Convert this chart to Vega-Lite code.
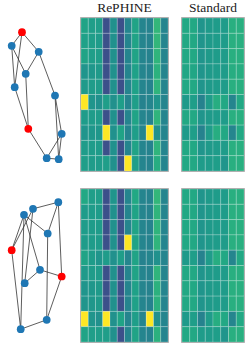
{
"$schema": "https://vega.github.io/schema/vega-lite/v6.json",
"padding": 0,
"config": {"view": {"stroke": null}, "title": {"font": "Liberation Serif", "fontSize": 13.5, "fontWeight": "normal", "color": "#222", "offset": 3}},
"datasets": {
"n1": [
{"id":"A","x":22,"y":14.2,"k":"r"},{"id":"B","x":11.7,"y":27.8,"k":"n"},{"id":"C","x":38.7,"y":33.8,"k":"n"},{"id":"D","x":25.7,"y":55.8,"k":"n"},{"id":"E","x":14.7,"y":69.2,"k":"n"},{"id":"F","x":55,"y":77.5,"k":"n"},{"id":"G","x":28.3,"y":110.8,"k":"r"},{"id":"H","x":61.7,"y":115.8,"k":"n"},{"id":"I","x":46.7,"y":140.2,"k":"n"},{"id":"J","x":58.7,"y":141.2,"k":"n"}],
"e1": [
{"s":"A","t":"B"},{"s":"A","t":"C"},{"s":"A","t":"E"},{"s":"B","t":"D"},{"s":"B","t":"E"},{"s":"C","t":"D"},{"s":"C","t":"F"},{"s":"D","t":"G"},{"s":"E","t":"G"},{"s":"G","t":"I"},{"s":"F","t":"H"},{"s":"F","t":"J"},{"s":"H","t":"I"},{"s":"H","t":"J"},{"s":"I","t":"J"}],
"n2": [
{"id":"a","x":58.3,"y":13.2,"k":"n"},{"id":"b","x":33,"y":19.8,"k":"n"},{"id":"c","x":24,"y":25.8,"k":"n"},{"id":"d","x":47.7,"y":44.5,"k":"n"},{"id":"e","x":11.7,"y":61.2,"k":"r"},{"id":"f","x":40,"y":80.8,"k":"n"},{"id":"g","x":61.7,"y":87.5,"k":"r"},{"id":"h","x":24.7,"y":94.2,"k":"n"},{"id":"i","x":46.7,"y":130.8,"k":"n"},{"id":"j","x":20.7,"y":140.2,"k":"n"}],
"e2": [
{"s":"a","t":"b"},{"s":"a","t":"d"},{"s":"a","t":"g"},{"s":"b","t":"e"},{"s":"b","t":"h"},{"s":"c","t":"e"},{"s":"c","t":"d"},{"s":"c","t":"f"},{"s":"c","t":"j"},{"s":"d","t":"i"},{"s":"f","t":"h"},{"s":"f","t":"g"},{"s":"g","t":"i"},{"s":"i","t":"j"},{"s":"e","t":"j"}],
"heat": [
{"p":"t","m":"R","r":0,"c":0,"v":0.58},{"p":"t","m":"R","r":0,"c":1,"v":0.56},{"p":"t","m":"R","r":0,"c":2,"v":0.56},{"p":"t","m":"R","r":0,"c":3,"v":0.24},{"p":"t","m":"R","r":0,"c":4,"v":0.5},{"p":"t","m":"R","r":0,"c":5,"v":0.24},{"p":"t","m":"R","r":0,"c":6,"v":0.45},{"p":"t","m":"R","r":0,"c":7,"v":0.58},{"p":"t","m":"R","r":0,"c":8,"v":0.45},{"p":"t","m":"R","r":0,"c":9,"v":0.44},{"p":"t","m":"R","r":0,"c":10,"v":0.66},{"p":"t","m":"R","r":0,"c":11,"v":0.45},
{"p":"t","m":"R","r":1,"c":0,"v":0.57},{"p":"t","m":"R","r":1,"c":1,"v":0.56},{"p":"t","m":"R","r":1,"c":2,"v":0.55},{"p":"t","m":"R","r":1,"c":3,"v":0.24},{"p":"t","m":"R","r":1,"c":4,"v":0.5},{"p":"t","m":"R","r":1,"c":5,"v":0.24},{"p":"t","m":"R","r":1,"c":6,"v":0.45},{"p":"t","m":"R","r":1,"c":7,"v":0.58},{"p":"t","m":"R","r":1,"c":8,"v":0.45},{"p":"t","m":"R","r":1,"c":9,"v":0.44},{"p":"t","m":"R","r":1,"c":10,"v":0.66},{"p":"t","m":"R","r":1,"c":11,"v":0.45},
{"p":"t","m":"R","r":2,"c":0,"v":0.58},{"p":"t","m":"R","r":2,"c":1,"v":0.56},{"p":"t","m":"R","r":2,"c":2,"v":0.56},{"p":"t","m":"R","r":2,"c":3,"v":0.24},{"p":"t","m":"R","r":2,"c":4,"v":0.5},{"p":"t","m":"R","r":2,"c":5,"v":0.24},{"p":"t","m":"R","r":2,"c":6,"v":0.45},{"p":"t","m":"R","r":2,"c":7,"v":0.58},{"p":"t","m":"R","r":2,"c":8,"v":0.45},{"p":"t","m":"R","r":2,"c":9,"v":0.44},{"p":"t","m":"R","r":2,"c":10,"v":0.65},{"p":"t","m":"R","r":2,"c":11,"v":0.45},
{"p":"t","m":"R","r":3,"c":0,"v":0.52},{"p":"t","m":"R","r":3,"c":1,"v":0.53},{"p":"t","m":"R","r":3,"c":2,"v":0.54},{"p":"t","m":"R","r":3,"c":3,"v":0.24},{"p":"t","m":"R","r":3,"c":4,"v":0.5},{"p":"t","m":"R","r":3,"c":5,"v":0.24},{"p":"t","m":"R","r":3,"c":6,"v":0.45},{"p":"t","m":"R","r":3,"c":7,"v":0.57},{"p":"t","m":"R","r":3,"c":8,"v":0.45},{"p":"t","m":"R","r":3,"c":9,"v":0.44},{"p":"t","m":"R","r":3,"c":10,"v":0.64},{"p":"t","m":"R","r":3,"c":11,"v":0.45},
{"p":"t","m":"R","r":4,"c":0,"v":0.54},{"p":"t","m":"R","r":4,"c":1,"v":0.55},{"p":"t","m":"R","r":4,"c":2,"v":0.55},{"p":"t","m":"R","r":4,"c":3,"v":0.24},{"p":"t","m":"R","r":4,"c":4,"v":0.5},{"p":"t","m":"R","r":4,"c":5,"v":0.24},{"p":"t","m":"R","r":4,"c":6,"v":0.45},{"p":"t","m":"R","r":4,"c":7,"v":0.57},{"p":"t","m":"R","r":4,"c":8,"v":0.45},{"p":"t","m":"R","r":4,"c":9,"v":0.44},{"p":"t","m":"R","r":4,"c":10,"v":0.65},{"p":"t","m":"R","r":4,"c":11,"v":0.45},
{"p":"t","m":"R","r":5,"c":0,"v":1.0},{"p":"t","m":"R","r":5,"c":1,"v":0.52},{"p":"t","m":"R","r":5,"c":2,"v":0.5},{"p":"t","m":"R","r":5,"c":3,"v":0.56},{"p":"t","m":"R","r":5,"c":4,"v":0.5},{"p":"t","m":"R","r":5,"c":5,"v":0.56},{"p":"t","m":"R","r":5,"c":6,"v":0.45},{"p":"t","m":"R","r":5,"c":7,"v":0.56},{"p":"t","m":"R","r":5,"c":8,"v":0.44},{"p":"t","m":"R","r":5,"c":9,"v":0.45},{"p":"t","m":"R","r":5,"c":10,"v":0.52},{"p":"t","m":"R","r":5,"c":11,"v":0.45},
{"p":"t","m":"R","r":6,"c":0,"v":0.55},{"p":"t","m":"R","r":6,"c":1,"v":0.55},{"p":"t","m":"R","r":6,"c":2,"v":0.55},{"p":"t","m":"R","r":6,"c":3,"v":0.24},{"p":"t","m":"R","r":6,"c":4,"v":0.5},{"p":"t","m":"R","r":6,"c":5,"v":0.24},{"p":"t","m":"R","r":6,"c":6,"v":0.45},{"p":"t","m":"R","r":6,"c":7,"v":0.58},{"p":"t","m":"R","r":6,"c":8,"v":0.45},{"p":"t","m":"R","r":6,"c":9,"v":0.44},{"p":"t","m":"R","r":6,"c":10,"v":0.65},{"p":"t","m":"R","r":6,"c":11,"v":0.45},
{"p":"t","m":"R","r":7,"c":0,"v":0.52},{"p":"t","m":"R","r":7,"c":1,"v":0.53},{"p":"t","m":"R","r":7,"c":2,"v":0.53},{"p":"t","m":"R","r":7,"c":3,"v":1.0},{"p":"t","m":"R","r":7,"c":4,"v":0.5},{"p":"t","m":"R","r":7,"c":5,"v":0.58},{"p":"t","m":"R","r":7,"c":6,"v":0.45},{"p":"t","m":"R","r":7,"c":7,"v":0.56},{"p":"t","m":"R","r":7,"c":8,"v":0.45},{"p":"t","m":"R","r":7,"c":9,"v":1.0},{"p":"t","m":"R","r":7,"c":10,"v":0.5},{"p":"t","m":"R","r":7,"c":11,"v":0.45},
{"p":"t","m":"R","r":8,"c":0,"v":0.55},{"p":"t","m":"R","r":8,"c":1,"v":0.55},{"p":"t","m":"R","r":8,"c":2,"v":0.55},{"p":"t","m":"R","r":8,"c":3,"v":0.24},{"p":"t","m":"R","r":8,"c":4,"v":0.5},{"p":"t","m":"R","r":8,"c":5,"v":0.24},{"p":"t","m":"R","r":8,"c":6,"v":0.45},{"p":"t","m":"R","r":8,"c":7,"v":0.58},{"p":"t","m":"R","r":8,"c":8,"v":0.45},{"p":"t","m":"R","r":8,"c":9,"v":0.44},{"p":"t","m":"R","r":8,"c":10,"v":0.65},{"p":"t","m":"R","r":8,"c":11,"v":0.45},
{"p":"t","m":"R","r":9,"c":0,"v":0.56},{"p":"t","m":"R","r":9,"c":1,"v":0.55},{"p":"t","m":"R","r":9,"c":2,"v":0.55},{"p":"t","m":"R","r":9,"c":3,"v":0.56},{"p":"t","m":"R","r":9,"c":4,"v":0.5},{"p":"t","m":"R","r":9,"c":5,"v":0.24},{"p":"t","m":"R","r":9,"c":6,"v":1.0},{"p":"t","m":"R","r":9,"c":7,"v":0.56},{"p":"t","m":"R","r":9,"c":8,"v":0.45},{"p":"t","m":"R","r":9,"c":9,"v":0.44},{"p":"t","m":"R","r":9,"c":10,"v":0.62},{"p":"t","m":"R","r":9,"c":11,"v":0.45},
{"p":"b","m":"R","r":0,"c":0,"v":0.6},{"p":"b","m":"R","r":0,"c":1,"v":0.56},{"p":"b","m":"R","r":0,"c":2,"v":0.56},{"p":"b","m":"R","r":0,"c":3,"v":0.24},{"p":"b","m":"R","r":0,"c":4,"v":0.52},{"p":"b","m":"R","r":0,"c":5,"v":0.24},{"p":"b","m":"R","r":0,"c":6,"v":0.45},{"p":"b","m":"R","r":0,"c":7,"v":0.6},{"p":"b","m":"R","r":0,"c":8,"v":0.45},{"p":"b","m":"R","r":0,"c":9,"v":0.44},{"p":"b","m":"R","r":0,"c":10,"v":0.66},{"p":"b","m":"R","r":0,"c":11,"v":0.45},
{"p":"b","m":"R","r":1,"c":0,"v":0.55},{"p":"b","m":"R","r":1,"c":1,"v":0.55},{"p":"b","m":"R","r":1,"c":2,"v":0.55},{"p":"b","m":"R","r":1,"c":3,"v":0.24},{"p":"b","m":"R","r":1,"c":4,"v":0.5},{"p":"b","m":"R","r":1,"c":5,"v":0.24},{"p":"b","m":"R","r":1,"c":6,"v":0.45},{"p":"b","m":"R","r":1,"c":7,"v":0.58},{"p":"b","m":"R","r":1,"c":8,"v":0.45},{"p":"b","m":"R","r":1,"c":9,"v":0.44},{"p":"b","m":"R","r":1,"c":10,"v":0.65},{"p":"b","m":"R","r":1,"c":11,"v":0.45},
{"p":"b","m":"R","r":2,"c":0,"v":0.55},{"p":"b","m":"R","r":2,"c":1,"v":0.55},{"p":"b","m":"R","r":2,"c":2,"v":0.55},{"p":"b","m":"R","r":2,"c":3,"v":0.24},{"p":"b","m":"R","r":2,"c":4,"v":0.5},{"p":"b","m":"R","r":2,"c":5,"v":0.24},{"p":"b","m":"R","r":2,"c":6,"v":0.45},{"p":"b","m":"R","r":2,"c":7,"v":0.58},{"p":"b","m":"R","r":2,"c":8,"v":0.45},{"p":"b","m":"R","r":2,"c":9,"v":0.44},{"p":"b","m":"R","r":2,"c":10,"v":0.65},{"p":"b","m":"R","r":2,"c":11,"v":0.45},
{"p":"b","m":"R","r":3,"c":0,"v":0.55},{"p":"b","m":"R","r":3,"c":1,"v":0.55},{"p":"b","m":"R","r":3,"c":2,"v":0.55},{"p":"b","m":"R","r":3,"c":3,"v":0.24},{"p":"b","m":"R","r":3,"c":4,"v":0.5},{"p":"b","m":"R","r":3,"c":5,"v":0.24},{"p":"b","m":"R","r":3,"c":6,"v":1.0},{"p":"b","m":"R","r":3,"c":7,"v":0.58},{"p":"b","m":"R","r":3,"c":8,"v":0.45},{"p":"b","m":"R","r":3,"c":9,"v":0.44},{"p":"b","m":"R","r":3,"c":10,"v":0.65},{"p":"b","m":"R","r":3,"c":11,"v":0.45},
{"p":"b","m":"R","r":4,"c":0,"v":0.58},{"p":"b","m":"R","r":4,"c":1,"v":0.55},{"p":"b","m":"R","r":4,"c":2,"v":0.52},{"p":"b","m":"R","r":4,"c":3,"v":0.55},{"p":"b","m":"R","r":4,"c":4,"v":0.5},{"p":"b","m":"R","r":4,"c":5,"v":0.56},{"p":"b","m":"R","r":4,"c":6,"v":0.45},{"p":"b","m":"R","r":4,"c":7,"v":0.58},{"p":"b","m":"R","r":4,"c":8,"v":0.44},{"p":"b","m":"R","r":4,"c":9,"v":0.45},{"p":"b","m":"R","r":4,"c":10,"v":0.5},{"p":"b","m":"R","r":4,"c":11,"v":0.45},
{"p":"b","m":"R","r":5,"c":0,"v":0.54},{"p":"b","m":"R","r":5,"c":1,"v":0.55},{"p":"b","m":"R","r":5,"c":2,"v":0.55},{"p":"b","m":"R","r":5,"c":3,"v":0.24},{"p":"b","m":"R","r":5,"c":4,"v":0.5},{"p":"b","m":"R","r":5,"c":5,"v":0.24},{"p":"b","m":"R","r":5,"c":6,"v":0.45},{"p":"b","m":"R","r":5,"c":7,"v":0.58},{"p":"b","m":"R","r":5,"c":8,"v":0.45},{"p":"b","m":"R","r":5,"c":9,"v":0.44},{"p":"b","m":"R","r":5,"c":10,"v":0.65},{"p":"b","m":"R","r":5,"c":11,"v":0.45},
{"p":"b","m":"R","r":6,"c":0,"v":0.52},{"p":"b","m":"R","r":6,"c":1,"v":0.53},{"p":"b","m":"R","r":6,"c":2,"v":0.54},{"p":"b","m":"R","r":6,"c":3,"v":0.24},{"p":"b","m":"R","r":6,"c":4,"v":0.5},{"p":"b","m":"R","r":6,"c":5,"v":0.24},{"p":"b","m":"R","r":6,"c":6,"v":0.45},{"p":"b","m":"R","r":6,"c":7,"v":0.57},{"p":"b","m":"R","r":6,"c":8,"v":0.45},{"p":"b","m":"R","r":6,"c":9,"v":0.44},{"p":"b","m":"R","r":6,"c":10,"v":0.64},{"p":"b","m":"R","r":6,"c":11,"v":0.45},
{"p":"b","m":"R","r":7,"c":0,"v":0.52},{"p":"b","m":"R","r":7,"c":1,"v":0.53},{"p":"b","m":"R","r":7,"c":2,"v":0.54},{"p":"b","m":"R","r":7,"c":3,"v":0.24},{"p":"b","m":"R","r":7,"c":4,"v":0.5},{"p":"b","m":"R","r":7,"c":5,"v":0.24},{"p":"b","m":"R","r":7,"c":6,"v":0.45},{"p":"b","m":"R","r":7,"c":7,"v":0.57},{"p":"b","m":"R","r":7,"c":8,"v":0.45},{"p":"b","m":"R","r":7,"c":9,"v":0.44},{"p":"b","m":"R","r":7,"c":10,"v":0.64},{"p":"b","m":"R","r":7,"c":11,"v":0.45},
{"p":"b","m":"R","r":8,"c":0,"v":1.0},{"p":"b","m":"R","r":8,"c":1,"v":0.52},{"p":"b","m":"R","r":8,"c":2,"v":0.5},{"p":"b","m":"R","r":8,"c":3,"v":1.0},{"p":"b","m":"R","r":8,"c":4,"v":0.5},{"p":"b","m":"R","r":8,"c":5,"v":0.58},{"p":"b","m":"R","r":8,"c":6,"v":0.45},{"p":"b","m":"R","r":8,"c":7,"v":0.56},{"p":"b","m":"R","r":8,"c":8,"v":0.45},{"p":"b","m":"R","r":8,"c":9,"v":1.0},{"p":"b","m":"R","r":8,"c":10,"v":0.5},{"p":"b","m":"R","r":8,"c":11,"v":0.45},
{"p":"b","m":"R","r":9,"c":0,"v":0.58},{"p":"b","m":"R","r":9,"c":1,"v":0.56},{"p":"b","m":"R","r":9,"c":2,"v":0.56},{"p":"b","m":"R","r":9,"c":3,"v":0.56},{"p":"b","m":"R","r":9,"c":4,"v":0.5},{"p":"b","m":"R","r":9,"c":5,"v":0.24},{"p":"b","m":"R","r":9,"c":6,"v":0.45},{"p":"b","m":"R","r":9,"c":7,"v":0.58},{"p":"b","m":"R","r":9,"c":8,"v":0.45},{"p":"b","m":"R","r":9,"c":9,"v":0.44},{"p":"b","m":"R","r":9,"c":10,"v":0.64},{"p":"b","m":"R","r":9,"c":11,"v":0.45},
{"p":"t","m":"S","r":0,"c":0,"v":0.6},{"p":"t","m":"S","r":0,"c":1,"v":0.6},{"p":"t","m":"S","r":0,"c":2,"v":0.52},{"p":"t","m":"S","r":0,"c":3,"v":0.54},{"p":"t","m":"S","r":0,"c":4,"v":0.55},{"p":"t","m":"S","r":0,"c":5,"v":0.55},{"p":"t","m":"S","r":0,"c":6,"v":0.63},{"p":"t","m":"S","r":0,"c":7,"v":0.63},
{"p":"t","m":"S","r":1,"c":0,"v":0.6},{"p":"t","m":"S","r":1,"c":1,"v":0.6},{"p":"t","m":"S","r":1,"c":2,"v":0.52},{"p":"t","m":"S","r":1,"c":3,"v":0.54},{"p":"t","m":"S","r":1,"c":4,"v":0.55},{"p":"t","m":"S","r":1,"c":5,"v":0.55},{"p":"t","m":"S","r":1,"c":6,"v":0.63},{"p":"t","m":"S","r":1,"c":7,"v":0.63},
{"p":"t","m":"S","r":2,"c":0,"v":0.6},{"p":"t","m":"S","r":2,"c":1,"v":0.6},{"p":"t","m":"S","r":2,"c":2,"v":0.52},{"p":"t","m":"S","r":2,"c":3,"v":0.54},{"p":"t","m":"S","r":2,"c":4,"v":0.55},{"p":"t","m":"S","r":2,"c":5,"v":0.55},{"p":"t","m":"S","r":2,"c":6,"v":0.63},{"p":"t","m":"S","r":2,"c":7,"v":0.63},
{"p":"t","m":"S","r":3,"c":0,"v":0.59},{"p":"t","m":"S","r":3,"c":1,"v":0.59},{"p":"t","m":"S","r":3,"c":2,"v":0.52},{"p":"t","m":"S","r":3,"c":3,"v":0.54},{"p":"t","m":"S","r":3,"c":4,"v":0.55},{"p":"t","m":"S","r":3,"c":5,"v":0.55},{"p":"t","m":"S","r":3,"c":6,"v":0.62},{"p":"t","m":"S","r":3,"c":7,"v":0.62},
{"p":"t","m":"S","r":4,"c":0,"v":0.6},{"p":"t","m":"S","r":4,"c":1,"v":0.6},{"p":"t","m":"S","r":4,"c":2,"v":0.52},{"p":"t","m":"S","r":4,"c":3,"v":0.54},{"p":"t","m":"S","r":4,"c":4,"v":0.55},{"p":"t","m":"S","r":4,"c":5,"v":0.55},{"p":"t","m":"S","r":4,"c":6,"v":0.63},{"p":"t","m":"S","r":4,"c":7,"v":0.63},
{"p":"t","m":"S","r":5,"c":0,"v":0.54},{"p":"t","m":"S","r":5,"c":1,"v":0.56},{"p":"t","m":"S","r":5,"c":2,"v":0.44},{"p":"t","m":"S","r":5,"c":3,"v":0.55},{"p":"t","m":"S","r":5,"c":4,"v":0.62},{"p":"t","m":"S","r":5,"c":5,"v":0.6},{"p":"t","m":"S","r":5,"c":6,"v":0.45},{"p":"t","m":"S","r":5,"c":7,"v":0.6},
{"p":"t","m":"S","r":6,"c":0,"v":0.6},{"p":"t","m":"S","r":6,"c":1,"v":0.6},{"p":"t","m":"S","r":6,"c":2,"v":0.52},{"p":"t","m":"S","r":6,"c":3,"v":0.54},{"p":"t","m":"S","r":6,"c":4,"v":0.55},{"p":"t","m":"S","r":6,"c":5,"v":0.55},{"p":"t","m":"S","r":6,"c":6,"v":0.63},{"p":"t","m":"S","r":6,"c":7,"v":0.63},
{"p":"t","m":"S","r":7,"c":0,"v":0.54},{"p":"t","m":"S","r":7,"c":1,"v":0.56},{"p":"t","m":"S","r":7,"c":2,"v":0.44},{"p":"t","m":"S","r":7,"c":3,"v":0.55},{"p":"t","m":"S","r":7,"c":4,"v":0.62},{"p":"t","m":"S","r":7,"c":5,"v":0.6},{"p":"t","m":"S","r":7,"c":6,"v":0.45},{"p":"t","m":"S","r":7,"c":7,"v":0.6},
{"p":"t","m":"S","r":8,"c":0,"v":0.6},{"p":"t","m":"S","r":8,"c":1,"v":0.6},{"p":"t","m":"S","r":8,"c":2,"v":0.52},{"p":"t","m":"S","r":8,"c":3,"v":0.54},{"p":"t","m":"S","r":8,"c":4,"v":0.55},{"p":"t","m":"S","r":8,"c":5,"v":0.55},{"p":"t","m":"S","r":8,"c":6,"v":0.63},{"p":"t","m":"S","r":8,"c":7,"v":0.63},
{"p":"t","m":"S","r":9,"c":0,"v":0.6},{"p":"t","m":"S","r":9,"c":1,"v":0.6},{"p":"t","m":"S","r":9,"c":2,"v":0.55},{"p":"t","m":"S","r":9,"c":3,"v":0.55},{"p":"t","m":"S","r":9,"c":4,"v":0.56},{"p":"t","m":"S","r":9,"c":5,"v":0.52},{"p":"t","m":"S","r":9,"c":6,"v":0.63},{"p":"t","m":"S","r":9,"c":7,"v":0.63},
{"p":"b","m":"S","r":0,"c":0,"v":0.6},{"p":"b","m":"S","r":0,"c":1,"v":0.6},{"p":"b","m":"S","r":0,"c":2,"v":0.52},{"p":"b","m":"S","r":0,"c":3,"v":0.54},{"p":"b","m":"S","r":0,"c":4,"v":0.55},{"p":"b","m":"S","r":0,"c":5,"v":0.55},{"p":"b","m":"S","r":0,"c":6,"v":0.63},{"p":"b","m":"S","r":0,"c":7,"v":0.63},
{"p":"b","m":"S","r":1,"c":0,"v":0.6},{"p":"b","m":"S","r":1,"c":1,"v":0.6},{"p":"b","m":"S","r":1,"c":2,"v":0.52},{"p":"b","m":"S","r":1,"c":3,"v":0.54},{"p":"b","m":"S","r":1,"c":4,"v":0.55},{"p":"b","m":"S","r":1,"c":5,"v":0.55},{"p":"b","m":"S","r":1,"c":6,"v":0.63},{"p":"b","m":"S","r":1,"c":7,"v":0.63},
{"p":"b","m":"S","r":2,"c":0,"v":0.6},{"p":"b","m":"S","r":2,"c":1,"v":0.6},{"p":"b","m":"S","r":2,"c":2,"v":0.52},{"p":"b","m":"S","r":2,"c":3,"v":0.54},{"p":"b","m":"S","r":2,"c":4,"v":0.55},{"p":"b","m":"S","r":2,"c":5,"v":0.55},{"p":"b","m":"S","r":2,"c":6,"v":0.63},{"p":"b","m":"S","r":2,"c":7,"v":0.63},
{"p":"b","m":"S","r":3,"c":0,"v":0.6},{"p":"b","m":"S","r":3,"c":1,"v":0.6},{"p":"b","m":"S","r":3,"c":2,"v":0.52},{"p":"b","m":"S","r":3,"c":3,"v":0.54},{"p":"b","m":"S","r":3,"c":4,"v":0.55},{"p":"b","m":"S","r":3,"c":5,"v":0.55},{"p":"b","m":"S","r":3,"c":6,"v":0.63},{"p":"b","m":"S","r":3,"c":7,"v":0.63},
{"p":"b","m":"S","r":4,"c":0,"v":0.54},{"p":"b","m":"S","r":4,"c":1,"v":0.56},{"p":"b","m":"S","r":4,"c":2,"v":0.44},{"p":"b","m":"S","r":4,"c":3,"v":0.55},{"p":"b","m":"S","r":4,"c":4,"v":0.62},{"p":"b","m":"S","r":4,"c":5,"v":0.6},{"p":"b","m":"S","r":4,"c":6,"v":0.45},{"p":"b","m":"S","r":4,"c":7,"v":0.6},
{"p":"b","m":"S","r":5,"c":0,"v":0.6},{"p":"b","m":"S","r":5,"c":1,"v":0.6},{"p":"b","m":"S","r":5,"c":2,"v":0.52},{"p":"b","m":"S","r":5,"c":3,"v":0.54},{"p":"b","m":"S","r":5,"c":4,"v":0.55},{"p":"b","m":"S","r":5,"c":5,"v":0.55},{"p":"b","m":"S","r":5,"c":6,"v":0.63},{"p":"b","m":"S","r":5,"c":7,"v":0.63},
{"p":"b","m":"S","r":6,"c":0,"v":0.6},{"p":"b","m":"S","r":6,"c":1,"v":0.6},{"p":"b","m":"S","r":6,"c":2,"v":0.52},{"p":"b","m":"S","r":6,"c":3,"v":0.54},{"p":"b","m":"S","r":6,"c":4,"v":0.55},{"p":"b","m":"S","r":6,"c":5,"v":0.55},{"p":"b","m":"S","r":6,"c":6,"v":0.63},{"p":"b","m":"S","r":6,"c":7,"v":0.63},
{"p":"b","m":"S","r":7,"c":0,"v":0.6},{"p":"b","m":"S","r":7,"c":1,"v":0.6},{"p":"b","m":"S","r":7,"c":2,"v":0.52},{"p":"b","m":"S","r":7,"c":3,"v":0.54},{"p":"b","m":"S","r":7,"c":4,"v":0.55},{"p":"b","m":"S","r":7,"c":5,"v":0.55},{"p":"b","m":"S","r":7,"c":6,"v":0.63},{"p":"b","m":"S","r":7,"c":7,"v":0.63},
{"p":"b","m":"S","r":8,"c":0,"v":0.54},{"p":"b","m":"S","r":8,"c":1,"v":0.56},{"p":"b","m":"S","r":8,"c":2,"v":0.44},{"p":"b","m":"S","r":8,"c":3,"v":0.55},{"p":"b","m":"S","r":8,"c":4,"v":0.62},{"p":"b","m":"S","r":8,"c":5,"v":0.6},{"p":"b","m":"S","r":8,"c":6,"v":0.45},{"p":"b","m":"S","r":8,"c":7,"v":0.6},
{"p":"b","m":"S","r":9,"c":0,"v":0.6},{"p":"b","m":"S","r":9,"c":1,"v":0.6},{"p":"b","m":"S","r":9,"c":2,"v":0.55},{"p":"b","m":"S","r":9,"c":3,"v":0.55},{"p":"b","m":"S","r":9,"c":4,"v":0.56},{"p":"b","m":"S","r":9,"c":5,"v":0.52},{"p":"b","m":"S","r":9,"c":6,"v":0.63},{"p":"b","m":"S","r":9,"c":7,"v":0.63}
]
},
"spacing": 14,
"vconcat": [
{"spacing": 10, "hconcat": [
 {"title": " ", "width": 69, "height": 153, "layer": [
  {"data": {"name": "e1"}, "transform": [
    {"lookup": "s", "from": {"data": {"name": "n1"}, "key": "id", "fields": ["x", "y"]}, "as": ["x1", "y1"]},
    {"lookup": "t", "from": {"data": {"name": "n1"}, "key": "id", "fields": ["x", "y"]}, "as": ["x2", "y2"]}],
   "mark": {"type": "rule", "color": "#333333", "strokeWidth": 0.8},
   "encoding": {"x": {"field": "x1", "type": "quantitative", "scale": {"domain": [0, 69]}, "axis": null},
    "y": {"field": "y1", "type": "quantitative", "scale": {"domain": [0, 153], "reverse": true}, "axis": null},
    "x2": {"field": "x2"}, "y2": {"field": "y2"}}},
  {"data": {"name": "n1"}, "mark": {"type": "circle", "size": 60, "opacity": 1},
   "encoding": {"x": {"field": "x", "type": "quantitative", "scale": {"domain": [0, 69]}, "axis": null},
    "y": {"field": "y", "type": "quantitative", "scale": {"domain": [0, 153], "reverse": true}, "axis": null},
    "color": {"field": "k", "type": "nominal", "scale": {"domain": ["n", "r"], "range": ["#1f77b4", "#ff0000"]}, "legend": null}}}
 ]},
 {"title": "RePHINE", "width": 87, "height": 153, "view": {"stroke": "#8c8c8c", "strokeWidth": 1.5},
  "data": {"name": "heat"}, "transform": [{"filter": "datum.p == 't' && datum.m == 'R'"}],
  "mark": {"type": "rect", "stroke": "#ffffff", "strokeOpacity": 0.25, "strokeWidth": 0.8},
  "encoding": {"x": {"field": "c", "type": "ordinal", "axis": null, "scale": {"paddingInner": 0, "paddingOuter": 0}},
   "y": {"field": "r", "type": "ordinal", "axis": null, "scale": {"paddingInner": 0, "paddingOuter": 0}},
   "color": {"field": "v", "type": "quantitative", "scale": {"scheme": "viridis", "domain": [0, 1]}, "legend": null}}},
 {"title": "Standard", "width": 62, "height": 153, "view": {"stroke": "#8c8c8c", "strokeWidth": 1.5},
  "data": {"name": "heat"}, "transform": [{"filter": "datum.p == 't' && datum.m == 'S'"}],
  "mark": {"type": "rect", "stroke": "#ffffff", "strokeOpacity": 0.25, "strokeWidth": 0.8},
  "encoding": {"x": {"field": "c", "type": "ordinal", "axis": null, "scale": {"paddingInner": 0, "paddingOuter": 0}},
   "y": {"field": "r", "type": "ordinal", "axis": null, "scale": {"paddingInner": 0, "paddingOuter": 0}},
   "color": {"field": "v", "type": "quantitative", "scale": {"scheme": "viridis", "domain": [0, 1]}, "legend": null}}}
]},
{"spacing": 10, "hconcat": [
 {"width": 69, "height": 153, "layer": [
  {"data": {"name": "e2"}, "transform": [
    {"lookup": "s", "from": {"data": {"name": "n2"}, "key": "id", "fields": ["x", "y"]}, "as": ["x1", "y1"]},
    {"lookup": "t", "from": {"data": {"name": "n2"}, "key": "id", "fields": ["x", "y"]}, "as": ["x2", "y2"]}],
   "mark": {"type": "rule", "color": "#333333", "strokeWidth": 0.8},
   "encoding": {"x": {"field": "x1", "type": "quantitative", "scale": {"domain": [0, 69]}, "axis": null},
    "y": {"field": "y1", "type": "quantitative", "scale": {"domain": [0, 153], "reverse": true}, "axis": null},
    "x2": {"field": "x2"}, "y2": {"field": "y2"}}},
  {"data": {"name": "n2"}, "mark": {"type": "circle", "size": 60, "opacity": 1},
   "encoding": {"x": {"field": "x", "type": "quantitative", "scale": {"domain": [0, 69]}, "axis": null},
    "y": {"field": "y", "type": "quantitative", "scale": {"domain": [0, 153], "reverse": true}, "axis": null},
    "color": {"field": "k", "type": "nominal", "scale": {"domain": ["n", "r"], "range": ["#1f77b4", "#ff0000"]}, "legend": null}}}
 ]},
 {"width": 87, "height": 153, "view": {"stroke": "#8c8c8c", "strokeWidth": 1.5},
  "data": {"name": "heat"}, "transform": [{"filter": "datum.p == 'b' && datum.m == 'R'"}],
  "mark": {"type": "rect", "stroke": "#ffffff", "strokeOpacity": 0.25, "strokeWidth": 0.8},
  "encoding": {"x": {"field": "c", "type": "ordinal", "axis": null, "scale": {"paddingInner": 0, "paddingOuter": 0}},
   "y": {"field": "r", "type": "ordinal", "axis": null, "scale": {"paddingInner": 0, "paddingOuter": 0}},
   "color": {"field": "v", "type": "quantitative", "scale": {"scheme": "viridis", "domain": [0, 1]}, "legend": null}}},
 {"width": 62, "height": 153, "view": {"stroke": "#8c8c8c", "strokeWidth": 1.5},
  "data": {"name": "heat"}, "transform": [{"filter": "datum.p == 'b' && datum.m == 'S'"}],
  "mark": {"type": "rect", "stroke": "#ffffff", "strokeOpacity": 0.25, "strokeWidth": 0.8},
  "encoding": {"x": {"field": "c", "type": "ordinal", "axis": null, "scale": {"paddingInner": 0, "paddingOuter": 0}},
   "y": {"field": "r", "type": "ordinal", "axis": null, "scale": {"paddingInner": 0, "paddingOuter": 0}},
   "color": {"field": "v", "type": "quantitative", "scale": {"scheme": "viridis", "domain": [0, 1]}, "legend": null}}}
]}
]
}
